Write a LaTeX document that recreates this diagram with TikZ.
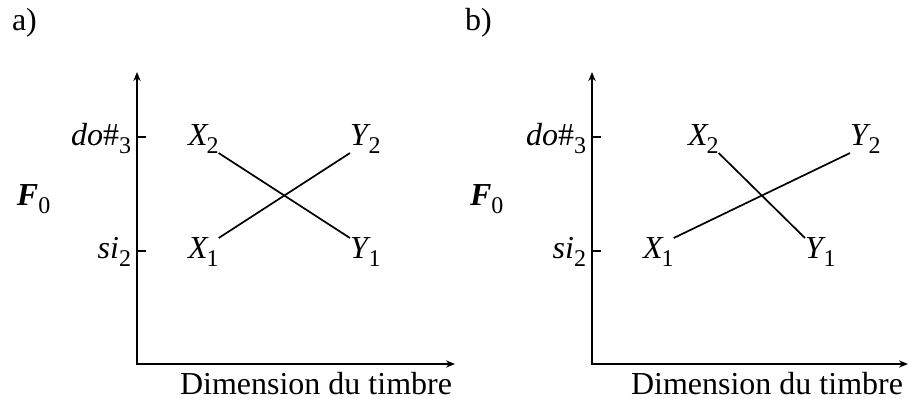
\documentclass[tikz,border=0pt]{standalone}
\usepackage{fontspec}
\setmainfont{Liberation Serif}
\usetikzlibrary{arrows.meta}
% subscript set as text, close to the printed one
\newcommand\sbs[1]{\raisebox{-0.22em}{\fontsize{12}{12}\selectfont #1}}
\newcommand\vlab[2]{\textit{#1}\kern-0.06em\sbs{#2}}
\tikzset{
  % Axes with arrow heads at both free ends
  axarr/.style={{Stealth[length=4.5pt,width=3.6pt,inset=1.4pt]}-{Stealth[length=4.5pt,width=3.6pt,inset=1.4pt]},
                line width=0.9pt},
  tickln/.style={line width=0.9pt},
  crossln/.style={line width=0.85pt},
  % Text labels
  lbl/.style={inner sep=0pt, outer sep=0pt, font=\fontsize{16}{19}\selectfont},
}

\begin{document}
\begin{tikzpicture}[x=0.5pt,y=-0.5pt]
    \useasboundingbox (0,0) rectangle (909,399);

    % ── Panel a ────────────────────────────────────────────
    \node[lbl,anchor=base west] (atitle) at (12,31) {a)};
    \coordinate (aO)   at (137,364);
    \coordinate (aTop) at (137,72);
    \coordinate (aEnd) at (455,364);
    \coordinate (aHi)  at (137,137);
    \coordinate (aLo)  at (137,251);
    \draw[axarr] (aTop) -- (aO) -- (aEnd);
    \draw[tickln] (aHi) -- ++(9,0);
    \draw[tickln] (aLo) -- ++(9,0);
    \node[lbl,anchor=base east] (ado) at (131,146) {\textit{do}\#\sbs{3}};
    \node[lbl,anchor=base east] (asi) at (131,259) {\textit{si}\sbs{2}};
    \node[lbl,anchor=base west] (aF)  at (17,206)  {\textbf{\textit{F}}\sbs{0}};
    \node[lbl,anchor=base east] (adim) at (452,395) {Dimension du timbre};

    \node[lbl,anchor=base west] (aX2) at (188,146) {\vlab{X}{2}};
    \node[lbl,anchor=base west] (aY2) at (350,146) {\vlab{Y}{2}};
    \node[lbl,anchor=base west] (aX1) at (188,259) {\vlab{X}{1}};
    \node[lbl,anchor=base west] (aY1) at (350,259) {\vlab{Y}{1}};
    \draw[crossln] (aX2.south east) -- (aY1.north west);
    \draw[crossln] (aX1.north east) -- (aY2.south west);

    % ── Panel b ────────────────────────────────────────────
    \node[lbl,anchor=base west] (btitle) at (465,31) {b)};
    \coordinate (bO)   at (592,364);
    \coordinate (bTop) at (592,72);
    \coordinate (bEnd) at (908,364);
    \coordinate (bHi)  at (592,137);
    \coordinate (bLo)  at (592,251);
    \draw[axarr] (bTop) -- (bO) -- (bEnd);
    \draw[tickln] (bHi) -- ++(9,0);
    \draw[tickln] (bLo) -- ++(9,0);
    \node[lbl,anchor=base east] (bdo) at (586,146) {\textit{do}\#\sbs{3}};
    \node[lbl,anchor=base east] (bsi) at (586,259) {\textit{si}\sbs{2}};
    \node[lbl,anchor=base west] (bF)  at (470,206) {\textbf{\textit{F}}\sbs{0}};
    \node[lbl,anchor=base east] (bdim) at (903,395) {Dimension du timbre};

    \node[lbl,anchor=base west] (bX2) at (688,146) {\vlab{X}{2}};
    \node[lbl,anchor=base west] (bY2) at (850,146) {\vlab{Y}{2}};
    \node[lbl,anchor=base west] (bX1) at (643,259) {\vlab{X}{1}};
    \node[lbl,anchor=base west] (bY1) at (805,259) {\vlab{Y}{1}};
    \draw[crossln] (bX2.south east) -- (bY1.north west);
    \draw[crossln] (bX1.north east) -- (bY2.south west);

\end{tikzpicture}
\end{document}
